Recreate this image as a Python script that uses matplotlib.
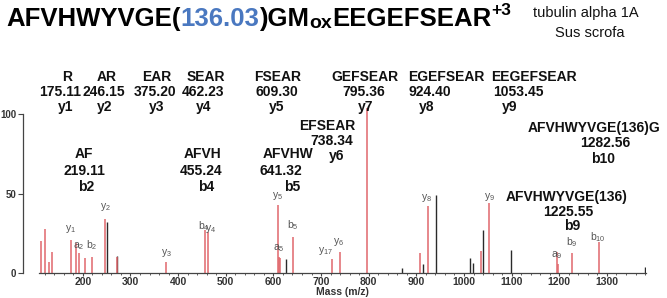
import matplotlib
matplotlib.use("Agg")
import matplotlib.pyplot as plt
from matplotlib.ticker import MultipleLocator

plt.rcParams['font.family'] = ['Liberation Sans', 'DejaVu Sans']
plt.rcParams['mathtext.fontset'] = 'custom'
plt.rcParams['mathtext.rm'] = 'Liberation Sans'
plt.rcParams['mathtext.default'] = 'regular'

# ---------------- data ----------------
mz_matched = [112.5, 120.9, 130.0, 136.2, 175.4, 186.5, 191.6, 204.8, 218.8, 246.5,
              270.8, 375.5, 455.5, 462.5, 609.5, 612.3, 614.0, 641.5, 723.0, 738.8,
              795.5, 908.5, 924.5, 1035.0, 1053.5, 1195.0, 1197.6, 1225.8, 1283.0]
int_matched = [20, 28, 7.3, 13.6, 21, 19, 12.7, 9.4, 10.2, 34,
               10, 7.3, 27, 26, 43, 10, 9.6, 22.6, 9, 13.6,
               104, 13, 42, 14, 44, 13.6, 6, 13, 19.8]
mz_other = [251.5, 272.0, 626.5, 870.8, 914.0, 941.2, 1012.0, 1019.0, 1040.6, 1097.9, 1380.0]
int_other = [32, 11, 9, 3.5, 5.8, 49, 9.4, 6.3, 27.2, 14.6, 4]

peak_labels = ["y$_1$", "a$_2$", "b$_2$", "y$_2$", "y$_3$", "b$_4$", "y$_4$", "y$_5$", "a$_5$",
               "b$_5$", "y$_{17}$", "y$_6$", "y$_8$", "y$_9$", "a$_9$", "b$_9$", "b$_{10}$"]
peak_label_mz = [175.4, 191.6, 218.8, 246.5, 375.5, 455.5, 462.5, 609.5, 612.3,
                 641.5, 723.0, 738.8, 924.5, 1053.5, 1197.6, 1225.8, 1283.0]
peak_label_int = [21, 12.7, 10.2, 34, 7.3, 27, 26, 43, 10,
                  22.6, 9, 13.6, 42, 44, 6, 13, 19.8]

y_frag = ["R", "AR", "EAR", "SEAR", "FSEAR", "GEFSEAR", "EGEFSEAR", "EEGEFSEAR", "EFSEAR"]
y_mass = ["175.11", "246.15", "375.20", "462.23", "609.30", "795.36", "924.40", "1053.45", "738.34"]
y_ion = ["y1", "y2", "y3", "y4", "y5", "y7", "y8", "y9", "y6"]

b_frag = ["AF", "AFVH", "AFVHW", "AFVHWYVGE(136)G", "AFVHWYVGE(136)"]
b_mass = ["219.11", "455.24", "641.32", "1282.56", "1225.55"]
b_ion = ["b2", "b4", "b5", "b10", "b9"]

x_ticks = [200, 300, 400, 500, 600, 700, 800, 900, 1000, 1100, 1200, 1300]
y_ticks = [0, 50, 100]

# ---------------- layout (pixels) ----------------
W, H = 667, 298
RED = '#e0676c'
DARK = '#2a2a2a'
GRAY = '#555555'

fig = plt.figure(figsize=(W / 100, H / 100), dpi=100)
ax = fig.add_axes([39 / W, (H - 273.3) / H, (646 - 39) / W, (273.3 - 107.6) / H])
ax.set_xlim(108, 1382)
ax.set_ylim(0, 104)

ax.vlines(mz_other, 0, int_other, colors=DARK, lw=1.0)
ax.vlines(mz_matched, 0, int_matched, colors=RED, lw=1.1)

# peak labels: offsets in pixels (dx, dy) from peak top
lab_off = [(-1, 5), (0, 1), (0, 5), (0, 6), (0, 3), (-1, -3), (3, -3), (0, 3), (0, 3),
           (0, 5), (-7, 2), (-1, 4), (-1, 2), (0, 0), (-1, 3), (0, 4), (-1, -2)]
for t, m, v, (dx, dy) in zip(peak_labels, peak_label_mz, peak_label_int, lab_off):
    ax.annotate(t, xy=(m, v), xytext=(dx * 0.72, dy * 0.72), textcoords='offset points',
                ha='center', va='bottom', fontsize=7.5, color=GRAY)

for s in ['top', 'right']:
    ax.spines[s].set_visible(False)
ax.spines['left'].set_position(('outward', 16.3 * 0.72))
ax.spines['left'].set_bounds(0, 100)
ax.spines['left'].set_color('#444444')
ax.spines['bottom'].set_color('#444444')
ax.spines['left'].set_linewidth(0.9)
ax.spines['bottom'].set_linewidth(0.9)

ax.set_xticks(x_ticks)
ax.set_xticklabels([str(v) for v in x_ticks])
ax.xaxis.set_minor_locator(MultipleLocator(20))
ax.set_yticks(y_ticks)
ax.set_yticklabels([str(v) for v in y_ticks])
ax.tick_params(axis='x', which='major', length=2.5, width=0.8, colors='#444444', pad=0.5,
               labelsize=7.5, labelcolor='#333333')
ax.tick_params(axis='x', which='minor', length=1.5, width=0.6, colors='#444444')
ax.tick_params(axis='y', length=3.5, width=0.8, colors='#444444', pad=1,
               labelsize=7, labelcolor='#333333')
for lbl in ax.get_xticklabels() + ax.get_yticklabels():
    lbl.set_fontweight('bold')


def fx(px):
    return px / W


def fy(py):
    return 1 - py / H


fig.text(fx(342.5), fy(292), "Mass (m/z)", ha='center', va='center', fontsize=7.5,
         fontweight='bold', color='#333333')

# fragment annotation blocks
top_x = [(67, 60, 66), (107, 104, 105), (157, 155, 157), (206, 203, 204), (278, 277, 277),
         (365, 364, 366), (446, 430, 427), (534, 518, 510), (327, 332, 337)]
top_y = [(77, 92, 107)] * 8 + [(126, 141, 156)]
for i in range(len(y_frag)):
    for txt, px, py in zip((y_frag[i], y_mass[i], y_ion[i]), top_x[i], top_y[i]):
        fig.text(fx(px), fy(py), txt, ha='center', va='center', fontsize=10,
                 fontweight='bold', color='#111111')

bot_x = [(84, 84, 86), (202, 201, 206), (288, 281, 292), (594, 605, 603), (567, 568, 572)]
bot_y = [(154, 171, 187)] * 3 + [(128, 143, 159), (197, 212, 226)]
for i in range(len(b_frag)):
    for txt, px, py in zip((b_frag[i], b_mass[i], b_ion[i]), bot_x[i], bot_y[i]):
        fig.text(fx(px), fy(py), txt, ha='center', va='center', fontsize=10,
                 fontweight='bold', color='#111111')

# title built from pieces
renderer = fig.canvas.get_renderer()
pieces = [("AFVHWYVGE(", '#000000', 18.5, 0), ("136.03", '#4a78c0', 18.5, 0),
          (")GM", '#000000', 18.5, 0), ("ox", '#000000', 14, -1.5),
          ("EEGEFSEAR", '#000000', 18.5, 0), ("+3", '#000000', 12.5, 11)]
xcur = 6.0
base = 26.0
for s, c, size, dy in pieces:
    t = fig.text(fx(xcur), fy(base - dy), s, ha='left', va='baseline', fontsize=size,
                 fontweight='bold', color=c)
    bb = t.get_window_extent(renderer)
    xcur = bb.x1

fig.text(fx(586), fy(12.5), "tubulin alpha 1A", ha='center', va='center', fontsize=10.5,
         color='#111111')
fig.text(fx(590), fy(33), "Sus scrofa", ha='center', va='center', fontsize=10.5,
         color='#111111')

fig.savefig("out.png", dpi=100)
